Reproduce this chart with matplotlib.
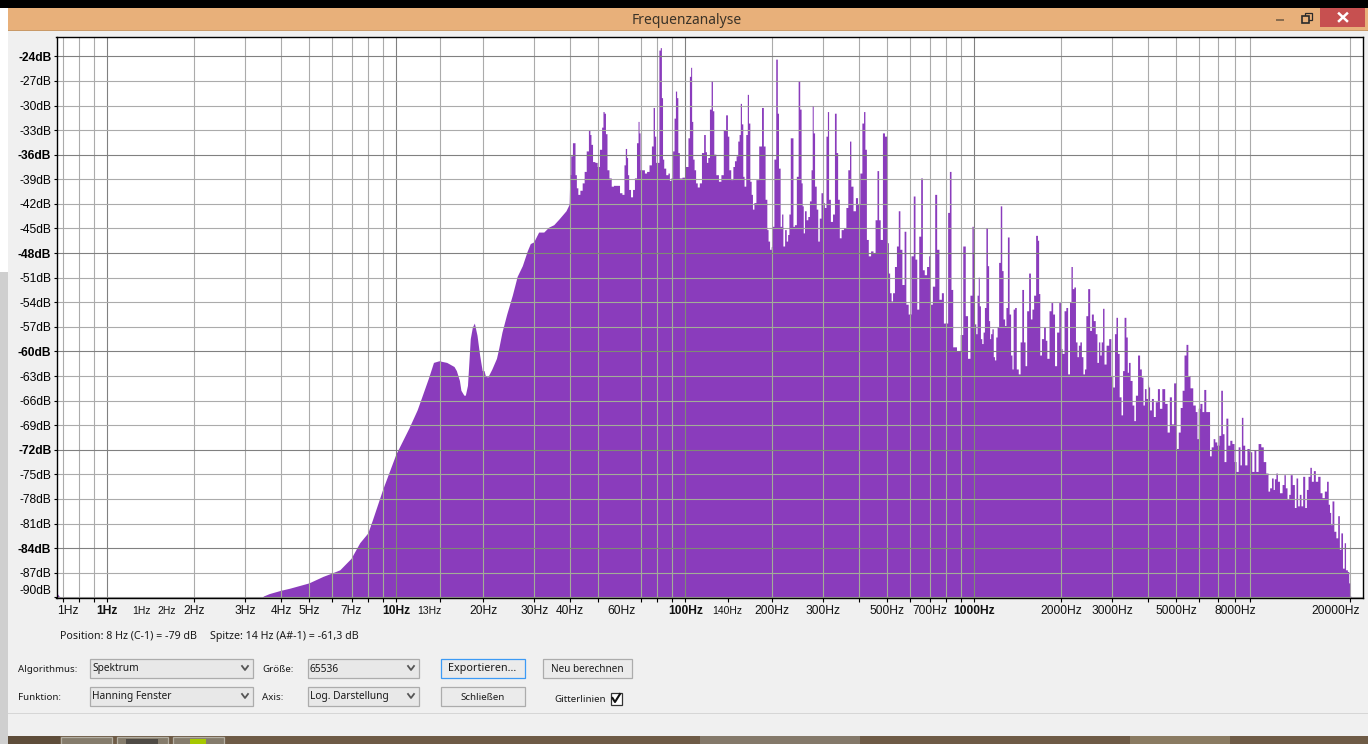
import matplotlib
matplotlib.use("Agg")
import matplotlib.pyplot as plt
from matplotlib.patches import Rectangle

WIDTH = 1368
HEIGHT = 744
PURPLE = "#8A3CBC"

UI_FONT = "Noto Sans"
RULER_FONT = "Liberation Sans"

# spectrum, one block per decade
decade0Hz = [0.667, 0.72, 3.4, 3.48, 3.65, 4.0, 4.29, 5.0, 5.6, 6.0,
             6.4, 7.0, 7.5, 8.0, 8.3, 9.0]
decade0Db = [-89.4, -91, -91, -89.9, -89.6, -89.2, -88.95, -88.3, -87.5, -87.1,
             -86.7, -85.3, -83.4, -82.2, -80.6, -76.9]

smoothHz = [10, 11.1, 11.85, 12.3, 13.0, 13.5, 14.1, 15.0, 15.9, 16.2,
            16.6, 16.8, 17.2, 17.4, 17.7, 17.9, 18.1, 18.4, 18.7, 19.1,
            19.5, 19.9, 20.2, 20.4, 20.8, 21.5, 22.3, 22.7, 23.3, 24.2,
            25.3, 26.3, 27.4, 28.5, 29.2, 30, 31.2, 32.5, 33.8, 35.2,
            36.7, 38.8, 39.8]
smoothDb = [-72.6, -69.4, -67.2, -65.6, -63.2, -61.4, -61.2, -61.4, -61.9, -62.4,
            -63.6, -64.8, -65.4, -65.4, -64.2, -61.4, -58.5, -57.1, -56.6, -58.1,
            -60.5, -62.4, -62.4, -63, -63.2, -62.2, -60.9, -59.7, -57.7, -55.5,
            -53.2, -50.9, -49.6, -47.8, -46.9, -46.7, -45.5, -45.5, -44.9, -44.6,
            -43.9, -42.9, -42.1]

peaks40Hz = [40, 40.6, 41.1, 41.5, 41.9, 42.4, 42.9, 43.8, 44.5, 45.2,
             46, 46.8, 47.1, 47.6, 48.3, 49.4, 50.1, 51.2, 51.9, 52.3,
             52.9, 53.4, 54.2, 55.1, 56.2, 57.1, 59, 59.9, 61.3, 61.9,
             62.6, 63.2, 63.6, 64.3, 65.5, 66.4, 67.5, 68.6, 69.2, 69.7,
             70.3, 71.9, 73.1, 74.4, 76, 77.3, 78.1, 79, 79.6, 80.9,
             81.8, 82.7, 83.3, 84.2, 84.9, 86.9, 88, 88.9, 90.2, 91.3,
             92.3, 93.3, 94.1, 95.1, 96.4, 99.2]
peaks40Db = [-38.5, -36.2, -34.6, -34.6, -38.5, -40.1, -40.9, -40.4, -39.5, -38.1,
             -35.6, -33.1, -33.6, -34.8, -36.9, -37, -37.5, -35.4, -32.7, -30.8,
             -31, -33.5, -37.9, -38.9, -39.9, -39.8, -39.8, -40.7, -40.9, -37.3,
             -35.3, -36.4, -38.5, -40.3, -41.2, -40.3, -38.9, -34.6, -32, -33.4,
             -37.9, -37.9, -38.3, -38.1, -37.3, -35, -30.3, -33.8, -37, -37,
             -23.3, -23, -29.1, -36.6, -37.7, -38.5, -38.3, -39.2, -38.9, -35.6,
             -31.6, -28.3, -29.1, -35.8, -38.9, -38.8]

peaks100Hz = [101.9, 103.2, 104.3, 105.2, 106, 107.1, 108.3, 109.7, 111.2, 113.3,
              115.1, 117.3, 118.2, 119.5, 120.7, 122.7, 124, 125.3, 126.7, 129.4,
              132.1, 134.6, 137.2, 139.7, 141.2, 142.8, 145.6, 147.8, 149.3, 151.7,
              153.3, 155, 156.2, 158, 159.5, 161.2, 163.9, 165.2, 167, 168.8,
              170.6, 172.3, 174.6, 177.9, 182.6, 186, 188, 191.2, 193.3, 195,
              198]
peaks100Db = [-37.5, -34, -26.5, -25.4, -32, -36.6, -37.9, -39.5, -40, -39.5,
              -35.8, -33.6, -35.7, -37, -36.4, -30.5, -27.1, -30.7, -36, -38.5,
              -39.3, -38.5, -33, -31.2, -33.8, -37.9, -39.1, -37.5, -36.8, -36.2,
              -34.4, -33.6, -29.8, -32.3, -38.7, -39.9, -33.6, -28.7, -32.2, -39.3,
              -40.9, -42.7, -41.9, -39.1, -35, -30.3, -35, -41.5, -45.2, -46.6,
              -47.6]

peaks200Hz = [200, 202, 204.8, 208, 210, 212, 215.5, 217, 220, 223,
              225.8, 228, 230.5, 233, 235.5, 238, 241, 245.5, 248, 251.7,
              253.5, 256, 258, 261, 265, 268, 272, 275, 277, 279.5,
              283, 287, 290, 294, 298, 302, 306, 310, 313, 316,
              322, 327, 332, 336, 340, 345, 350, 358, 364, 369,
              374, 377, 387, 392]
peaks200Db = [-47.3, -44.8, -36.6, -24.4, -31, -37.7, -44.8, -43.3, -47.2, -45.2,
              -46.6, -45.8, -43.3, -34, -34, -44.8, -44.6, -38.7, -27.1, -30.5,
              -39.5, -42.3, -45.6, -42.9, -44, -43.6, -41.7, -37.9, -30.1, -33.4,
              -39.9, -42.7, -46.6, -43.8, -40.7, -41.9, -42.5, -33.8, -30.8, -41.5,
              -44.2, -43.3, -31, -35.8, -41.5, -46.2, -45.2, -45, -42.5, -37.9,
              -34.4, -39.9, -42.9, -41.3]

peaks400Hz = [400, 407, 413, 418, 422, 428, 435, 444, 452, 459,
              466, 471, 478, 488, 494, 505, 508, 515, 520, 527,
              536, 544, 552, 558, 570, 578, 586, 600, 613, 622,
              630, 640, 650, 660, 668, 680, 693, 703, 711, 727,
              738, 750, 765, 780, 790, 807, 817, 830, 838, 853,
              890, 905, 927, 942, 961, 979, 992]
peaks400Db = [-42.1, -38.3, -32.2, -30.8, -35.4, -46.4, -48.4, -47.8, -48, -44,
              -38, -44, -46.4, -33.4, -33.8, -46.8, -50.5, -52.9, -53.9, -52.9,
              -49.7, -47.2, -42.9, -47.6, -51.9, -45.4, -54.3, -55.5, -48.4, -41.1,
              -48.8, -54.9, -46, -38.9, -50.1, -50.7, -49.7, -48.4, -54.3, -52.1,
              -40.9, -47.6, -53.7, -52.9, -56.6, -56.6, -43.1, -38.1, -52.5, -59.5,
              -60, -58, -47.2, -55.7, -60.9, -53.2, -44.8]

peaks1kHz = [1000, 1011, 1021, 1032, 1041, 1049, 1060, 1071, 1083, 1094,
             1109, 1121, 1130, 1139, 1148, 1163, 1173, 1185, 1198, 1211,
             1227, 1243, 1256, 1270, 1287, 1297, 1318, 1332, 1350, 1361,
             1376, 1394, 1412, 1439, 1454, 1478, 1495, 1514, 1534, 1562,
             1579, 1600, 1622, 1652, 1670, 1683, 1701, 1728, 1760, 1778,
             1802, 1841, 1860, 1890, 1916, 1953, 1984]
peaks1kDb = [-48, -56.7, -57.9, -53.2, -51, -54.5, -58.5, -59.1, -57.7, -54.7,
             -45, -49.6, -56.3, -58.5, -57.9, -57.3, -60.7, -61.1, -58.3, -57.1,
             -49.2, -42.3, -50.2, -56.1, -56.9, -54.7, -46.1, -55.5, -60.5, -62.2,
             -54.9, -54.7, -62.2, -62.8, -58.9, -52.5, -58.9, -61.8, -55.1, -50.5,
             -56.1, -54.9, -53.2, -45.9, -46.5, -53, -60.5, -58.5, -57.1, -58.7,
             -60.9, -55.1, -54.1, -55.5, -61.8, -57.7, -54.1]

peaks2kHz = [2005, 2036, 2070, 2095, 2130, 2158, 2181, 2205, 2235, 2262,
             2290, 2312, 2345, 2370, 2402, 2430, 2455, 2502, 2535, 2570,
             2615, 2650, 2685, 2715, 2745, 2775, 2805, 2840, 2900, 2960,
             3000, 3050, 3085, 3125, 3160, 3210, 3255, 3290, 3335, 3385,
             3410, 3450, 3500, 3560, 3600, 3650, 3725, 3770, 3830, 3870,
             3920, 3970]
peaks2kDb = [-59.7, -60.3, -55.1, -54.7, -62.8, -54, -49.7, -52.4, -52.2, -58.9,
             -60.7, -59.3, -58.9, -60.7, -62.8, -62.2, -55.7, -52.4, -57.5, -55.5,
             -56.3, -57.9, -61.4, -58.9, -60.5, -58.9, -54.8, -61.6, -59.3, -58.5,
             -63, -64.4, -57.9, -55.9, -60.3, -65.6, -67.8, -62.4, -55.9, -58.3,
             -62.6, -61.4, -63.6, -66.6, -68.5, -65.4, -60.5, -62.2, -63.2, -66.6,
             -64.6, -65.8]

peaks4kHz = [4020, 4032, 4085, 4150, 4215, 4280, 4360, 4420, 4530, 4625,
             4710, 4790, 4870, 4960, 5060, 5140, 5220, 5300, 5380, 5470,
             5540, 5660, 5790, 5890, 5950, 6010, 6110, 6210, 6290, 6410,
             6510, 6580, 6680, 6790, 6860, 7000, 7100, 7210, 7290, 7400,
             7510, 7630, 7750, 7890, 8020, 8150, 8290, 8390]
peaks4kDb = [-64.2, -64.4, -67.2, -65.8, -68, -66.2, -64.6, -67, -64.6, -66.4,
             -69.9, -65.6, -68.9, -63.9, -71.9, -69.9, -66.9, -64.8, -60.5, -59.2,
             -63, -64.5, -66.6, -67.4, -70.7, -67, -66.4, -67.4, -64.7, -67.4,
             -67.4, -72.8, -71.7, -70.7, -71.1, -71.5, -70.3, -64.8, -70.1, -73.5,
             -68.2, -71.5, -70.9, -71.3, -73.5, -74.7, -71.7, -73.9]

tailHz = [8480, 8590, 8730, 8900, 9060, 9260, 9390, 9530, 9740, 9950,
          10130, 10350, 10500, 10620, 10820, 10910, 11030, 11180, 11300, 11550,
          11780, 11895, 12050, 12215, 12380, 12510, 12780, 12950, 13120, 13290,
          13470, 13650, 13840, 14100, 14210, 14480, 14630, 14830, 15100, 15300,
          15680, 15890, 16180, 16490, 16760, 16930, 17110, 17250, 17480, 17760,
          18050, 18290, 18530, 18730, 19030, 19240, 19440, 19810, 19860, 20120,
          20200]
tailDb = [-68.1, -71.5, -73.9, -71.9, -72.3, -74.7, -72.1, -74.7, -71.3, -71.7,
          -73.5, -74.9, -77.1, -76.7, -75.5, -76.9, -75.6, -74.9, -75.9, -77.3,
          -76.3, -75.1, -76.7, -78.1, -77.5, -75.1, -76.3, -79.1, -75.5, -78.9,
          -77.5, -78.9, -75.3, -79.1, -76.9, -75.3, -74.2, -75.9, -74.6, -75.9,
          -75.3, -77.3, -77.9, -77.1, -75.9, -78.7, -79.7, -81.2, -78.3, -82,
          -82.8, -80.1, -84.2, -82.2, -86.5, -83.4, -86.7, -86.9, -88.3, -89.9,
          -95]

# ruler
gridHz = [0.7, 0.8, 0.9, 2, 3, 4, 5, 6, 7, 8, 9,
          14.2, 20, 30, 40, 50, 70, 80, 90,
          200, 300, 400, 500, 600, 700, 800, 900,
          2000, 3000, 4000, 5000, 6000, 7000, 8000, 9000, 20000]
majorHz = [1, 10, 100, 1000]
extraTickHz = [140]
dbTicks = [-24, -27, -30, -33, -36, -39, -42, -45, -48, -51, -54, -57, -60, -63,
           -66, -69, -72, -75, -78, -81, -84, -87, -90]
majorDb = [-24, -36, -48, -60, -72, -84]

labelHz = [0.73, 1, 1.31, 1.6, 2, 3, 4, 5, 7, 10, 13, 20, 30, 40, 60, 100, 140,
           200, 300, 500, 700, 1000, 2000, 3000, 5000, 8000, 17840]
labelText = ["1Hz", "1Hz", "1Hz", "2Hz", "2Hz", "3Hz", "4Hz", "5Hz", "7Hz", "10Hz",
             "13Hz", "20Hz", "30Hz", "40Hz", "60Hz", "100Hz", "140Hz", "200Hz",
             "300Hz", "500Hz", "700Hz", "1000Hz", "2000Hz", "3000Hz", "5000Hz",
             "8000Hz", "20000Hz"]
smallLabels = ["13Hz", "140Hz"]
smallAt = [1.31, 1.6]


def box(ax, x0, y0, x1, y1, fill, edge="none", lw=0, z=1):
    ax.add_patch(Rectangle((x0, y0), x1 - x0, y1 - y0, facecolor=fill, edgecolor=edge,
                           linewidth=lw, zorder=z))


def uiText(ax, x, y, s, ha="left", size=7.3, color="#1A1A1A"):
    ax.text(x, y + 1, s, ha=ha, va="center", fontsize=size, family=UI_FONT, color=color, zorder=5)


def combo(ax, x0, y0, x1, y1, s):
    box(ax, x0 + 0.5, y0 + 0.5, x1 - 0.5, y1 - 0.5, "#E8E8E8", "#ACACAC", 0.9, 3)
    uiText(ax, x0 + 3, (y0 + y1) / 2, s)
    cx = x1 - 8
    cy = (y0 + y1) / 2
    ax.plot([cx - 3, cx, cx + 3], [cy - 2, cy + 2, cy - 2], color="#555555", lw=1.3, zorder=5)


def button(ax, x0, y0, x1, y1, s, edge="#ACACAC", size=7.2):
    box(ax, x0 + 0.5, y0 + 0.5, x1 - 0.5, y1 - 0.5, "#EBEBEB", edge, 0.9, 3)
    uiText(ax, (x0 + x1) / 2, (y0 + y1) / 2, s, ha="center", size=size)


def drawWindow(fig):
    ax = fig.add_axes([0, 0, 1, 1], zorder=0)
    ax.set_xlim(0, WIDTH)
    ax.set_ylim(HEIGHT, 0)
    ax.axis("off")

    box(ax, 0, 0, WIDTH, HEIGHT, "#F0F0F0", z=0)
    box(ax, 0, 8, 8, 272, "#FFFFFF")
    box(ax, 0, 272, 8, HEIGHT, "#CFCFCF")
    box(ax, 8, 8, WIDTH, 30, "#E8B07A")
    box(ax, 8, 30, WIDTH, 31, "#C99A68")
    box(ax, 0, 0, WIDTH, 8, "#000000", z=2)

    # title bar
    ax.text(687, 20, "Frequenzanalyse", ha="center", va="center", fontsize=10.0,
            family=UI_FONT, color="#3B3328", zorder=5)
    box(ax, 1276, 19, 1284, 21, "#8A6D4F")
    box(ax, 1304.5, 12.5, 1311.5, 19.5, "none", "#2A2A2A", 0.9, 3)
    box(ax, 1301.5, 15.5, 1308.5, 22.5, "#E8B07A", "#2A2A2A", 1.2, 4)
    box(ax, 1320, 8, 1365, 27, "#C75050")
    ax.plot([1339, 1347], [13.5, 21], color="white", lw=1.8, zorder=5)
    ax.plot([1347, 1339], [13.5, 21], color="white", lw=1.8, zorder=5)

    # status and controls
    uiText(ax, 60, 635, "Position: 8 Hz (C-1) = -79 dB", size=7.7)
    uiText(ax, 210, 635, "Spitze: 14 Hz (A#-1) = -61,3 dB", size=7.7)
    uiText(ax, 18, 669, "Algorithmus:", size=7.0)
    uiText(ax, 18, 697, "Funktion:", size=7.0)
    uiText(ax, 262, 669, "Größe:", size=7.0)
    uiText(ax, 262, 697, "Axis:", size=7.0)
    combo(ax, 89, 658, 253, 678, "Spektrum")
    combo(ax, 89, 686, 253, 706, "Hanning Fenster")
    combo(ax, 307, 658, 419, 678, "65536")
    combo(ax, 307, 686, 419, 706, "Log. Darstellung")
    button(ax, 440, 658, 525, 678, "Exportieren...", edge="#3C9AF5", size=7.8)
    button(ax, 440, 686, 525, 706, "Schließen", size=7.0)
    button(ax, 542, 658, 632, 678, "Neu berechnen")
    uiText(ax, 554, 698, "Gitterlinien", size=7.0)
    box(ax, 610.5, 692.5, 621.5, 704.5, "#FFFFFF", "#333333", 0.9, 3)
    ax.plot([612.5, 615, 620], [698, 702, 694], color="#111111", lw=1.5, zorder=5)
    box(ax, 8, 713, WIDTH, 714, "#D6D6D6")

    # desktop behind the window
    box(ax, 8, 736, WIDTH, HEIGHT, "#6E5B46", z=2)
    box(ax, 8, 736, 60, HEIGHT, "#5E4D3A", z=2)
    box(ax, 700, 736, 860, HEIGHT, "#84796A", z=2)
    box(ax, 1130, 736, 1230, HEIGHT, "#8A7B62", z=2)
    for x0 in [60, 116, 172]:
        box(ax, x0 + 0.5, 736.5, x0 + 52, HEIGHT + 2, "#857C6C", "#B4AFA3", 0.9, 3)
    box(ax, 126, 739, 158, HEIGHT + 2, "#4F4B45", z=4)
    box(ax, 190, 739, 206, HEIGHT + 2, "#A6C800", z=4)


# above 40 Hz the display is one bar per pixel, so hold each reading up to
# the midpoint with the next one instead of sloping between them
def toSteps(hz, db):
    outHz = []
    outDb = []
    for i in range(len(hz) - 1):
        edge = (hz[i] * hz[i + 1]) ** 0.5
        outHz += [hz[i], edge]
        outDb += [db[i], db[i]]
        outHz += [edge]
        outDb += [db[i + 1]]
    outHz.append(hz[-1])
    outDb.append(db[-1])
    return outHz, outDb


def drawSpectrum(fig):
    left = 56.5
    right = 1362.5
    top = 36.5
    bottom = 598
    ax = fig.add_axes([left / WIDTH, (HEIGHT - bottom) / HEIGHT, (right - left) / WIDTH,
                       (bottom - top) / HEIGHT], zorder=2)
    ax.set_xscale("log")
    ax.set_xlim(0.667, 22050)
    ax.set_ylim(-90.08, -21.58)

    stepHz, stepDb = toSteps(peaks40Hz + peaks100Hz + peaks200Hz + peaks400Hz + peaks1kHz
                             + peaks2kHz + peaks4kHz + tailHz,
                             peaks40Db + peaks100Db + peaks200Db + peaks400Db + peaks1kDb
                             + peaks2kDb + peaks4kDb + tailDb)
    hz = decade0Hz + smoothHz + stepHz
    db = decade0Db + smoothDb + stepDb
    area = ax.fill(hz + [20200, 0.667], db + [-100, -100], color=PURPLE, lw=0, zorder=2)[0]

    # grid is grey on white and turns greenish over the fill
    for value in gridHz + majorHz:
        major = value in majorHz
        ax.axvline(value, color="#808080" if major else "#ABABAB", lw=0.8, zorder=1)
        line = ax.axvline(value, color="#7F8A75" if major else "#A2AD97", lw=0.8, zorder=3)
        line.set_clip_path(area)
    for value in dbTicks:
        major = value in majorDb
        ax.axhline(value, color="#808080" if major else "#ABABAB", lw=0.8, zorder=1)
        line = ax.axhline(value, color="#7F8A75" if major else "#A2AD97", lw=0.8, zorder=3)
        line.set_clip_path(area)

    for spine in ax.spines.values():
        spine.set_color("black")
        spine.set_linewidth(1.0)
        spine.set_zorder(6)

    ax.minorticks_off()
    ax.set_xticks(sorted(gridHz + majorHz + extraTickHz))
    ax.set_xticklabels([])
    ax.tick_params(axis="x", which="both", length=2.6, width=0.8, color="black")

    ax.set_yticks(dbTicks)
    ax.set_yticklabels([f"{v}dB" for v in dbTicks], family=RULER_FONT, fontsize=8.64)
    ax.tick_params(axis="y", length=2.2, width=0.8, pad=1.5, color="black")
    for text, value in zip(ax.get_yticklabels(), dbTicks):
        if value in majorDb:
            text.set_fontweight("bold")
        if value == -90:
            text.set_va("bottom")

    for pos, s in zip(labelHz, labelText):
        bold = pos in majorHz
        small = s in smallLabels or pos in smallAt
        ax.annotate(s, xy=(pos, 0), xycoords=("data", "axes fraction"), xytext=(0, -9.1),
                    textcoords="offset points", ha="center", va="center", family=RULER_FONT,
                    fontsize=7.5 if small else 8.64, fontweight="bold" if bold else "normal",
                    color="#111111", annotation_clip=False)


def main():
    fig = plt.figure(figsize=(WIDTH / 100, HEIGHT / 100), dpi=100)
    drawWindow(fig)
    drawSpectrum(fig)
    fig.savefig("out.png", dpi=100)


if __name__ == '__main__':
    main()
